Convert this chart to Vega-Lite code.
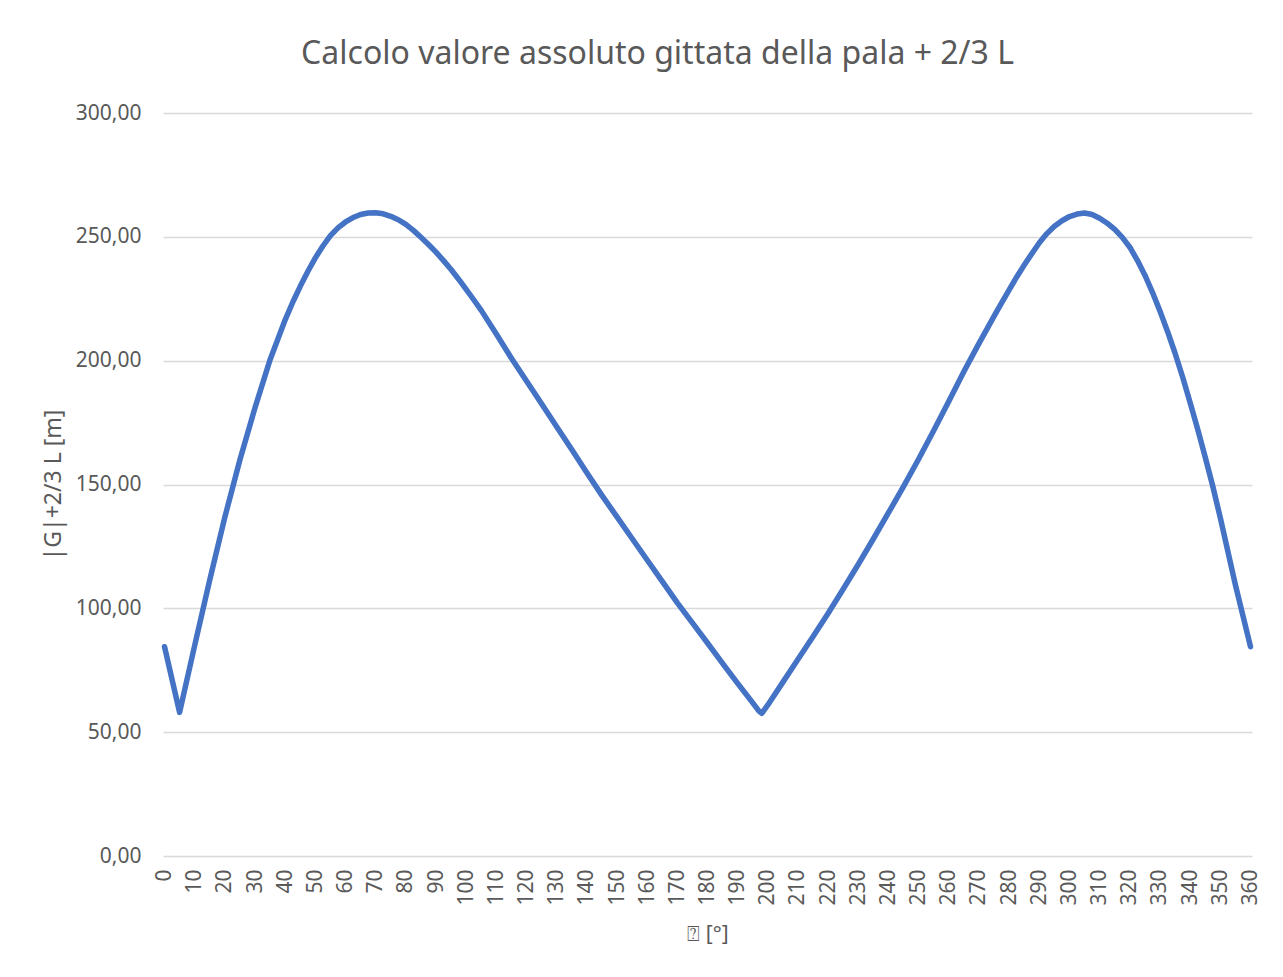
{
  "$schema": "https://vega.github.io/schema/vega-lite/v6.json",
  "width": 1089,
  "height": 743,
  "autosize": {"type": "none"},
  "padding": {"left": 163, "top": 113, "right": 31, "bottom": 121},
  "background": "white",
  "title": {
    "text": "Calcolo valore assoluto gittata della pala + 2/3 L",
    "anchor": "middle",
    "dx": -50,
    "offset": 31,
    "font": "Noto Sans",
    "fontSize": 32,
    "fontWeight": "normal",
    "color": "#595959"
  },
  "data": {
    "values": [
      {"a": 0, "g": 84.5}, {"a": 5, "g": 58}, {"a": 10, "g": 85}, {"a": 15, "g": 111.5},
      {"a": 20, "g": 136.8}, {"a": 25, "g": 160}, {"a": 30, "g": 181}, {"a": 35, "g": 200.4},
      {"a": 40, "g": 216.5}, {"a": 42.5, "g": 223.6}, {"a": 45, "g": 230}, {"a": 47.5, "g": 236}, {"a": 50, "g": 241.5}, {"a": 52.5, "g": 246.3}, {"a": 55, "g": 250.5},
      {"a": 57.5, "g": 253.6}, {"a": 60, "g": 256}, {"a": 62.5, "g": 257.8}, {"a": 65, "g": 259}, {"a": 67.5, "g": 259.6}, {"a": 70, "g": 259.7}, {"a": 72.5, "g": 259.3}, {"a": 75, "g": 258.3},
      {"a": 77.5, "g": 256.9}, {"a": 80, "g": 255}, {"a": 82.5, "g": 252.6}, {"a": 85, "g": 249.8}, {"a": 87.5, "g": 246.9}, {"a": 90, "g": 243.8}, {"a": 92.5, "g": 240.4}, {"a": 95, "g": 236.8},
      {"a": 97.5, "g": 232.9}, {"a": 100, "g": 228.8}, {"a": 102.5, "g": 224.6}, {"a": 105, "g": 220.3}, {"a": 110, "g": 210.8}, {"a": 115, "g": 201},
      {"a": 120, "g": 191.8}, {"a": 125, "g": 182.6}, {"a": 130, "g": 173.3}, {"a": 135, "g": 164.1},
      {"a": 140, "g": 154.7}, {"a": 145, "g": 145.6}, {"a": 150, "g": 136.9}, {"a": 155, "g": 128.2},
      {"a": 160, "g": 119.5}, {"a": 165, "g": 110.9}, {"a": 170, "g": 102.2}, {"a": 175, "g": 94.1},
      {"a": 180, "g": 86}, {"a": 185, "g": 77.8}, {"a": 190, "g": 69.7}, {"a": 195, "g": 61.8},
      {"a": 197, "g": 58.6}, {"a": 198, "g": 57.6}, {"a": 200, "g": 61}, {"a": 205, "g": 70.2},
      {"a": 210, "g": 79.4}, {"a": 215, "g": 88.6}, {"a": 220, "g": 98}, {"a": 225, "g": 107.8},
      {"a": 230, "g": 117.8}, {"a": 235, "g": 128.1}, {"a": 240, "g": 138.6}, {"a": 245, "g": 149.2},
      {"a": 250, "g": 160.3}, {"a": 255, "g": 171.8}, {"a": 260, "g": 183.6}, {"a": 265, "g": 195.6},
      {"a": 270, "g": 207}, {"a": 275, "g": 218}, {"a": 277.5, "g": 223.3}, {"a": 280, "g": 228.6}, {"a": 282.5, "g": 233.8}, {"a": 285, "g": 238.6},
      {"a": 287.5, "g": 243.2}, {"a": 290, "g": 247.6}, {"a": 292.5, "g": 251.3}, {"a": 295, "g": 254.3}, {"a": 297.5, "g": 256.5}, {"a": 300, "g": 258.2}, {"a": 302.5, "g": 259.2}, {"a": 305, "g": 259.6},
      {"a": 307.5, "g": 259}, {"a": 310, "g": 257.5}, {"a": 312.5, "g": 255.5}, {"a": 315, "g": 253}, {"a": 317.5, "g": 249.8}, {"a": 320, "g": 245.8}, {"a": 322.5, "g": 240.5}, {"a": 325, "g": 234.5},
      {"a": 327.5, "g": 227.6}, {"a": 330, "g": 220}, {"a": 332.5, "g": 211.8}, {"a": 335, "g": 203}, {"a": 337.5, "g": 193.4}, {"a": 340, "g": 183}, {"a": 342.5, "g": 172.3}, {"a": 345, "g": 161},
      {"a": 347.5, "g": 149.3}, {"a": 350, "g": 136.5}, {"a": 352.5, "g": 123}, {"a": 355, "g": 109.5}, {"a": 357, "g": 99.5}, {"a": 360, "g": 84.5}
    ]
  },
  "mark": {"type": "line", "color": "#4472C4", "strokeWidth": 5.5, "strokeCap": "round", "strokeJoin": "round"},
  "encoding": {
    "x": {
      "field": "a",
      "type": "quantitative",
      "scale": {"domain": [-0.5, 360.5], "nice": false, "zero": false},
      "axis": {
        "title": "⍰ [°]",
        "values": [0,10,20,30,40,50,60,70,80,90,100,110,120,130,140,150,160,170,180,190,200,210,220,230,240,250,260,270,280,290,300,310,320,330,340,350,360],
        "labelAngle": 270,
        "labelPadding": 13,
        "labelFontSize": 21,
        "labelFont": "Noto Sans",
        "labelColor": "#595959",
        "labelFlush": false,
        "labelOverlap": false,
        "ticks": false,
        "grid": false,
        "domain": false,
        "titleFont": "Noto Sans",
        "titleFontSize": 21,
        "titleFontWeight": "normal",
        "titleColor": "#595959",
        "titlePadding": 18
      }
    },
    "y": {
      "field": "g",
      "type": "quantitative",
      "scale": {"domain": [0, 300], "nice": false},
      "axis": {
        "title": "|G|+2/3 L [m]",
        "values": [0, 50, 100, 150, 200, 250, 300],
        "labelExpr": "replace(format(datum.value, '.2f'), '.', ',')",
        "labelPadding": 22,
        "labelFontSize": 21,
        "labelFont": "Noto Sans",
        "labelColor": "#595959",
        "ticks": false,
        "domain": false,
        "grid": true,
        "gridColor": "#D9D9D9",
        "gridWidth": 1.5,
        "titleFont": "Noto Sans",
        "titleFontSize": 23,
        "titleFontWeight": "normal",
        "titleColor": "#595959",
        "titlePadding": 10
      }
    }
  },
  "config": {"view": {"stroke": null}}
}
